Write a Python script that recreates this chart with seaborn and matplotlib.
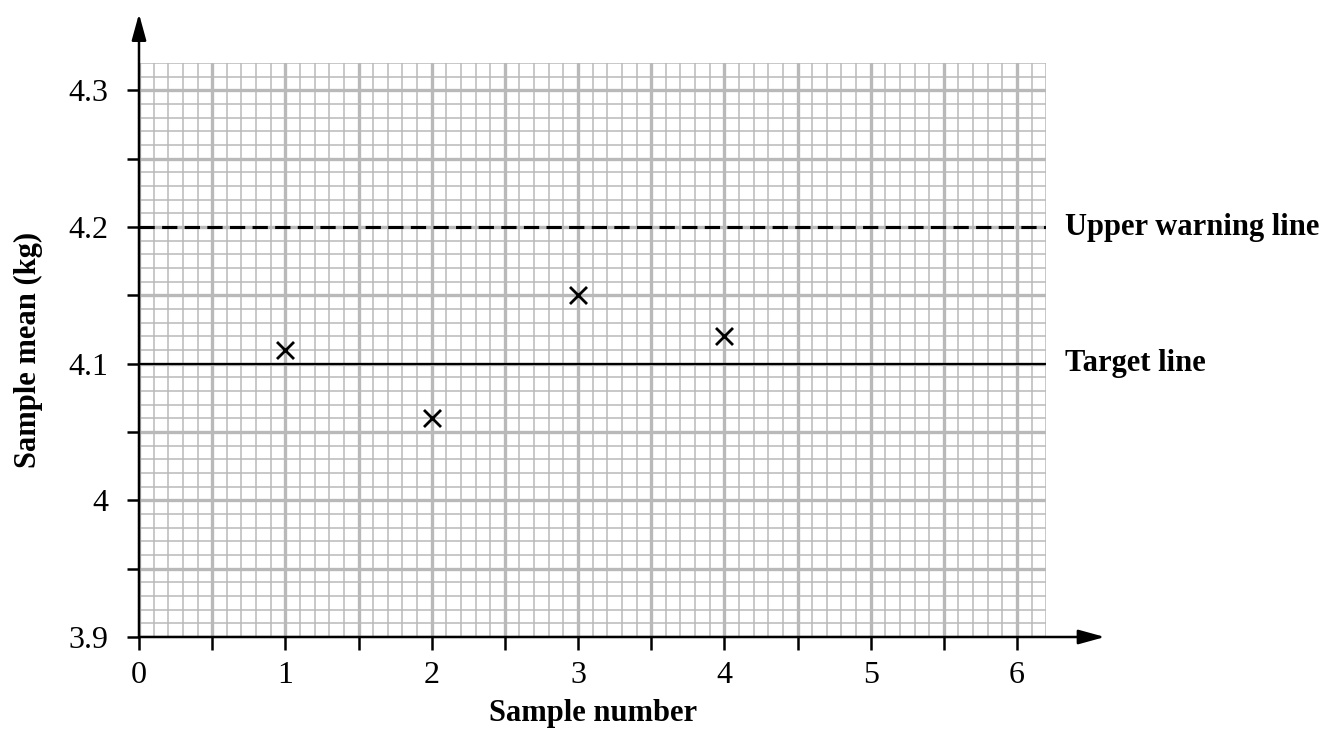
import numpy as np
import matplotlib
matplotlib.use("Agg")
import matplotlib.pyplot as plt
from matplotlib.ticker import FuncFormatter
import seaborn as sns

# data
sample_numbers = [1, 2, 3, 4]
sample_means = [4.11, 4.06, 4.15, 4.12]
target_value = 4.1
upper_warning_value = 4.2
line_labels = ["Upper warning line", "Target line"]

sns.set_theme(style="white")
plt.rcParams["font.family"] = ["Liberation Serif", "DejaVu Serif"]
plt.rcParams["text.color"] = "black"
plt.rcParams["axes.labelcolor"] = "black"
plt.rcParams["xtick.color"] = "black"
plt.rcParams["ytick.color"] = "black"

grid_col = "#b9b9b9"

fig = plt.figure(figsize=(13.27, 7.35), dpi=100)
ax = fig.add_axes([139 / 1327, 98 / 735, (1046.3 - 139) / 1327, 574 / 735])
ax.set_xlim(0, 6.2)
ax.set_ylim(3.9, 4.32)

# graph paper grid
ax.set_xticks(np.arange(0, 6.01, 0.5))
ax.set_xticks(np.arange(0, 6.21, 0.1), minor=True)
ax.set_yticks(np.arange(3.9, 4.321, 0.05))
ax.set_yticks(np.arange(3.9, 4.321, 0.01), minor=True)
ax.grid(which="minor", color=grid_col, linewidth=1.1)
ax.grid(which="major", color=grid_col, linewidth=2.4)
ax.set_axisbelow(True)


def x_fmt(v, pos):
    return f"{v:.0f}" if abs(v - round(v)) < 1e-6 else ""


def y_fmt(v, pos):
    r = round(v * 10) / 10
    if abs(v - r) > 1e-6:
        return ""
    return "4" if abs(r - 4) < 1e-6 else f"{r:.1f}"


ax.xaxis.set_major_formatter(FuncFormatter(x_fmt))
ax.yaxis.set_major_formatter(FuncFormatter(y_fmt))
ax.tick_params(which="major", direction="out", length=9, width=1.8, color="black",
               labelsize=23, bottom=True, left=True)
ax.tick_params(axis="x", which="major", pad=8)
ax.tick_params(axis="y", which="major", pad=13)
ax.tick_params(which="minor", length=0)

for s in ax.spines.values():
    s.set_visible(False)

# axes with arrow heads
arrow = dict(arrowstyle="-|>,head_length=0.8,head_width=0.22", color="black",
             lw=1.8, shrinkA=0, shrinkB=0, mutation_scale=20)
ax.annotate("", xy=(6.6, 3.9), xytext=(0, 3.9), arrowprops=arrow, annotation_clip=False)
ax.annotate("", xy=(0, 4.356), xytext=(0, 3.9), arrowprops=arrow, annotation_clip=False)

# control lines
ax.axhline(upper_warning_value, color="black", linestyle=(0, (5, 2.4)), linewidth=2.2)
ax.axhline(target_value, color="black", linewidth=1.6)
ax.text(6.33, upper_warning_value, line_labels[0], fontsize=22, fontweight="bold",
        va="center", ha="left", clip_on=False)
ax.text(6.33, target_value, line_labels[1], fontsize=22, fontweight="bold",
        va="center", ha="left", clip_on=False)

sns.scatterplot(x=sample_numbers, y=sample_means, marker="x", s=150, color="black",
                linewidth=2.0, ax=ax, zorder=5)

ax.set_xlabel("Sample number", fontsize=22, fontweight="bold", labelpad=7)
ax.set_ylabel("Sample mean (kg)", fontsize=22, fontweight="bold", labelpad=18)

fig.savefig("out.png", dpi=100)
